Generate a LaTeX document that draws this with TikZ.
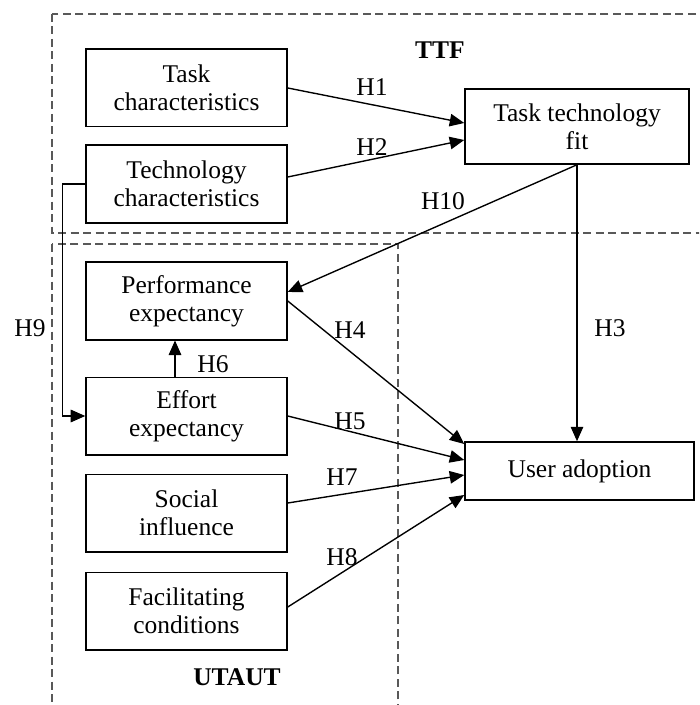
\documentclass[tikz,border=0pt]{standalone}
\usepackage{fontspec}
\setmainfont{Liberation Serif}
\usepackage{tikz}
\usetikzlibrary{arrows.meta, calc, positioning}
\definecolor{rahmen}{gray}{0.35}

\begin{document}
\begin{tikzpicture}[
        x=0.4pt, y=-0.4pt,
        every node/.style={font=\fontsize{10.2}{11.2}\selectfont, align=center},
        konstrukt/.style={draw, line width=0.6pt, minimum width=80.4pt, minimum height=31pt, inner sep=0pt},
        pfeil/.style={line width=0.55pt, -{Triangle[length=5.8pt,width=5pt]}},
        gruppe/.style={draw=rahmen, line width=0.45pt, dash pattern=on 3.2pt off 1.8pt},
      ]
      \clip (0,0) rectangle (699,705);

      % Rahmen
      \draw[gruppe] (52,14) rectangle (730,233);
      \draw[gruppe] (52,244) rectangle (398,730);
      \node (ttflabel) at (440,50) {\textbf{TTF}};
      \node (utautlabel) at (237,677) {\textbf{UTAUT}};

      % Konstrukte
      \node[konstrukt] (task) at (186.5,88) {Task\\characteristics};
      \node[konstrukt] (tech) at (186.5,184) {Technology\\characteristics};
      \node[konstrukt] (perf) at (186.5,301) {Performance\\expectancy};
      \node[konstrukt] (effort) at (186.5,416) {Effort\\expectancy};
      \node[konstrukt] (social) at (186.5,513) {Social\\influence};
      \node[konstrukt] (facil) at (186.5,611) {Facilitating\\conditions};
      \node[konstrukt, minimum width=89.6pt, minimum height=30pt] (fit) at (577,126.5) {Task technology\\fit};
      \node[konstrukt, minimum width=91.6pt, minimum height=23.2pt] (adopt) at (579.5,471) {User adoption};

      % Hypothesen
      \draw[pfeil] (task.east) -- ([yshift=1.4pt]fit.west);
      \draw[pfeil] ([yshift=2.8pt]tech.east) -- ([yshift=-5.4pt]fit.west);
      \draw[pfeil] (fit.south) -- ([yshift=3.6pt]perf.east);
      \draw[pfeil] (fit.south) -- (fit.south |- adopt.north);
      \draw[pfeil] (perf.east) -- ([yshift=10.8pt]adopt.west);
      \draw[pfeil] (effort.east) -- ([yshift=4.4pt]adopt.west);
      \draw[pfeil] ([yshift=4pt]social.east) -- ([yshift=-1.6pt]adopt.west);
      \draw[pfeil] ([yshift=1.6pt]facil.east) -- ([yshift=-9.6pt]adopt.west);
      \draw[pfeil] ([xshift=-4.6pt]effort.north) -- ([xshift=-4.6pt]perf.south);
      \draw[pfeil] (tech.west) -- ++(-23,0) |- (effort.west);

      \node (h1) at (372,87) {H1};
      \node (h2) at (372,147) {H2};
      \node (h10) at (443,201) {H10};
      \node (h3) at (610,328) {H3};
      \node (h4) at (350,330) {H4};
      \node (h5) at (350,421) {H5};
      \node (h7) at (342,477) {H7};
      \node (h8) at (342,557) {H8};
      \node (h6) at (213,364) {H6};
      \node (h9) at (30,328) {H9};
    \end{tikzpicture}
\end{document}
